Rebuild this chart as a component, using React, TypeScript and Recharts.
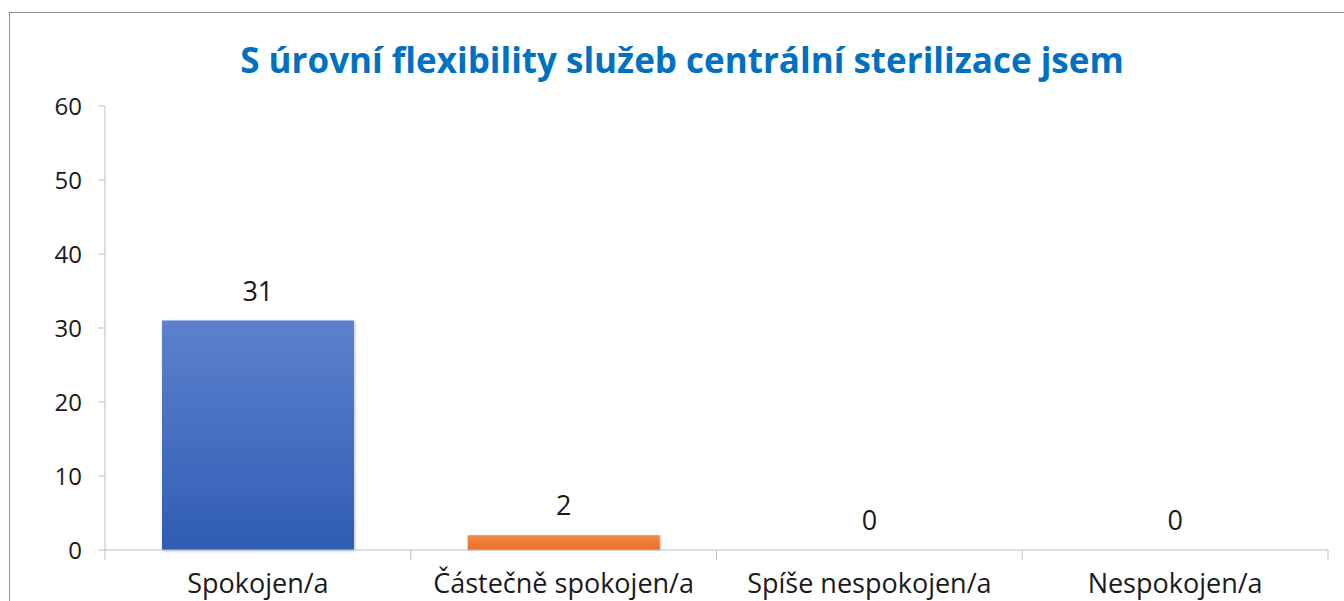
import { Bar, Cell, ComposedChart, LabelList, Line, XAxis, YAxis } from "recharts";

const categories = ["Spokojen/a", "Částečně spokojen/a", "Spíše nespokojen/a", "Nespokojen/a"];
const counts = [31, 2, 0, 0];
const yTicks = [0, 10, 20, 30, 40, 50, 60];
const title = "S úrovní flexibility služeb centrální sterilizace jsem";

const fills = ["url(#gradBlue)", "url(#gradOrange)", "url(#gradBlue)", "url(#gradBlue)"];

const data = categories.map((name, i) => ({ name, value: counts[i] }));

const FONT = "'Open Sans', sans-serif";
const AXIS = "#bfbfbf";

function CategoryTick(props: any) {
    const { x, payload, index } = props;
    const half = payload && payload.offset ? payload.offset : 152.9;
    const axisY = 550;
    return (
        <g>
            <line x1={x - half} x2={x - half} y1={axisY} y2={axisY + 10} stroke={AXIS} />
            {index === categories.length - 1 && (
                <line x1={x + half} x2={x + half} y1={axisY} y2={axisY + 10} stroke={AXIS} />
            )}
            <text x={x} y={593} textAnchor="middle" fill="#1a1a1a" fontSize={27} fontFamily={FONT}>
                {payload.value}
            </text>
        </g>
    );
}

export default function App() {
    return (
        <div style={{ position: "fixed", left: 0, top: 0, width: 1344, height: 601, overflow: "hidden", background: "#fff" }}>
            <div
                style={{
                    position: "absolute",
                    left: 9,
                    top: 12,
                    width: 1500,
                    height: 800,
                    border: "1px solid #8c8c8c",
                }}
            />
            <div
                style={{
                    position: "absolute",
                    left: 0,
                    width: 1364,
                    top: 36,
                    textAlign: "center",
                    fontFamily: FONT,
                    fontWeight: 700,
                    fontSize: 35,
                    color: "#0070c0",
                    lineHeight: "48px",
                }}
            >
                {title}
            </div>
            <div style={{ position: "absolute", left: 0, top: 0 }}>
                <ComposedChart
                    width={1344}
                    height={601}
                    data={data}
                    margin={{ top: 106, right: 16, left: 0, bottom: 0 }}
                    barCategoryGap={57}
                >
                    <defs>
                        <linearGradient id="gradBlue" x1="0" y1="0" x2="0" y2="1">
                            <stop offset="0%" stopColor="#5d81cd" />
                            <stop offset="100%" stopColor="#2f5db4" />
                        </linearGradient>
                        <linearGradient id="gradOrange" x1="0" y1="0" x2="0" y2="1">
                            <stop offset="0%" stopColor="#f28a3f" />
                            <stop offset="100%" stopColor="#e8702a" />
                        </linearGradient>
                        <filter id="barShadow" x="-5%" y="-5%" width="110%" height="110%">
                            <feDropShadow dx="1" dy="1" stdDeviation="1.5" floodColor="#000" floodOpacity="0.25" />
                        </filter>
                    </defs>
                    <XAxis
                        dataKey="name"
                        height={51}
                        axisLine={{ stroke: AXIS }}
                        tickLine={false}
                        tickSize={0}
                        interval={0}
                        tick={<CategoryTick />}
                    />
                    <YAxis
                        width={105}
                        domain={[0, 60]}
                        ticks={yTicks}
                        interval={0}
                        axisLine={{ stroke: AXIS }}
                        tickLine={{ stroke: AXIS }}
                        tickSize={7}
                        tickMargin={16}
                        tick={{ fill: "#1a1a1a", fontSize: 24, fontFamily: FONT }}
                    />
                    <Bar dataKey="value" isAnimationActive={false} filter="url(#barShadow)">
                        {data.map((d, i) => (
                            <Cell key={d.name} fill={fills[i]} />
                        ))}
                    </Bar>
                    <Line
                        dataKey="value"
                        stroke="none"
                        dot={false}
                        activeDot={false}
                        legendType="none"
                        isAnimationActive={false}
                    >
                        <LabelList
                            dataKey="value"
                            position="top"
                            offset={20}
                            fill="#1a1a1a"
                            fontSize={27}
                            fontFamily={FONT}
                        />
                    </Line>
                </ComposedChart>
            </div>
        </div>
    );
}
